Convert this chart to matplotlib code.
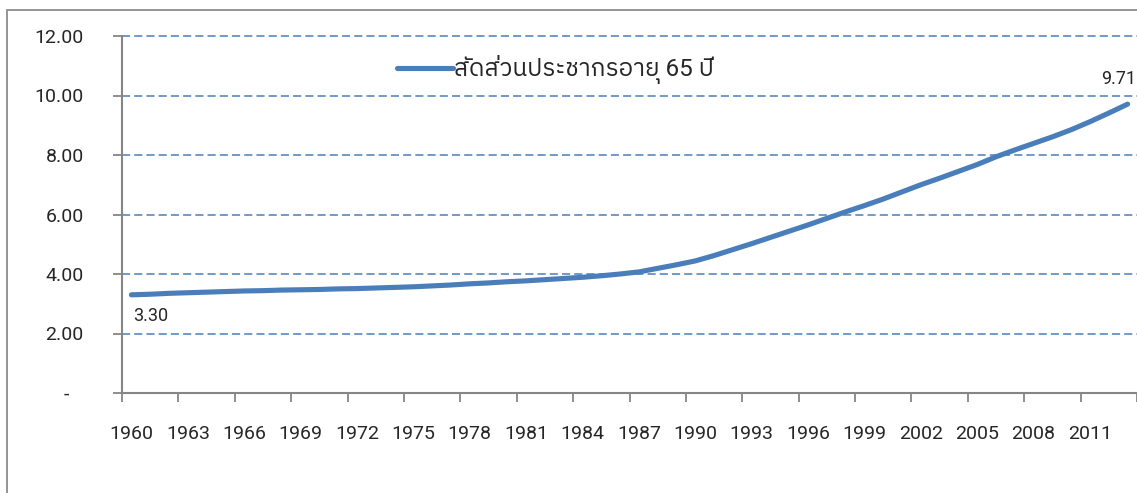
import matplotlib
matplotlib.use('Agg')
import matplotlib.pyplot as plt
import matplotlib.font_manager as fm
from matplotlib.ft2font import FT2Font
from matplotlib.patches import Rectangle
import numpy as np

# data (share of population aged 65+, %)
years = list(range(1960, 2014))
share = [3.30, 3.32, 3.35, 3.37, 3.39, 3.41, 3.43, 3.44, 3.46, 3.47,
         3.48, 3.50, 3.51, 3.53, 3.55, 3.57, 3.60, 3.63, 3.67, 3.70,
         3.74, 3.77, 3.81, 3.85, 3.89, 3.94, 4.00, 4.07, 4.19, 4.31,
         4.44, 4.62, 4.82, 5.02, 5.23, 5.44, 5.65, 5.87, 6.09, 6.30,
         6.52, 6.76, 7.00, 7.22, 7.45, 7.68, 7.94, 8.17, 8.39, 8.61,
         8.85, 9.12, 9.41, 9.71]
series_name = 'สัดส่วนประชากรอายุ 65 ปี'
y_ticks = [0, 2, 4, 6, 8, 10, 12]
y_labels = ['-   ', '2.00', '4.00', '6.00', '8.00', '10.00', '12.00']

# find some installed font that has thai glyphs
thai = []
for ent in fm.fontManager.ttflist:
    try:
        if 0x0E2A in FT2Font(ent.fname).get_charmap():
            thai.append(ent.name)
    except Exception:
        pass
thai = sorted(set(thai), key=lambda n: ('Sans' not in n, n))
fams = ['Roboto'] + thai[:1] + ['DejaVu Sans']
plt.rcParams['font.family'] = fams

blue = '#4A7EBB'
axis_grey = '#868686'
txt = '#262626'

fig = plt.figure(figsize=(11.37, 4.93), dpi=100)
ax = fig.add_axes([122/1137, 1 - 393/493, 1 - 122/1137, (393 - 36)/493])

x = np.arange(len(years))
ax.plot(x, share, color=blue, lw=3.7, solid_capstyle='round', label=series_name, zorder=3)

ax.set_xlim(-0.5, len(years) - 0.5)
ax.set_ylim(0, 12)

# y axis
ax.set_yticks(y_ticks)
ax.set_yticklabels(y_labels)
ax.tick_params(axis='y', direction='out', length=6.5, width=1.3, color=axis_grey,
               pad=21, labelsize=14, labelcolor=txt)

# x axis: ticks between categories every 3, labels on categories
ax.set_xticks(np.arange(-0.5, len(years), 3))
ax.set_xticklabels([])
ax.set_xticks(x[::3], minor=True)
ax.set_xticklabels([str(y) for y in years[::3]], minor=True)
ax.tick_params(axis='x', which='major', direction='out', length=6.5, width=1.3, color=axis_grey)
ax.tick_params(axis='x', which='minor', length=0, pad=23, labelsize=14, labelcolor=txt)

ax.grid(axis='y', color=blue, lw=1.1, linestyle=(0, (5.3, 2.7)), zorder=1)
ax.set_axisbelow(True)
for gl in ax.get_ygridlines():
    gl.set_clip_on(False)
ax.get_ygridlines()[0].set_visible(False)

for s in ['top', 'right']:
    ax.spines[s].set_visible(False)
for s in ['left', 'bottom']:
    ax.spines[s].set_color(axis_grey)
    ax.spines[s].set_linewidth(1.5)

# data labels at the ends
ax.annotate(f'{share[0]:.2f}', (x[0], share[0]), xytext=(19, -21), textcoords='offset pixels',
            ha='center', va='center', fontsize=13, color=txt)
ax.annotate(f'{share[-1]:.2f}', (x[-1], share[-1]), xytext=(-9, 25), textcoords='offset pixels',
            ha='center', va='center', fontsize=13, color=txt)

leg = ax.legend(loc='center left', bbox_to_anchor=(397/1137, 1 - 70/493),
                bbox_transform=fig.transFigure, frameon=False, fontsize=17.5,
                handlelength=2.3, handletextpad=0.05, borderpad=0, borderaxespad=0)
for t in leg.get_texts():
    t.set_color(txt)

# chart area border
fig.patches.append(Rectangle((7/1137, -0.2), 1.2, 1 - 10/493 + 0.2, transform=fig.transFigure,
                             fill=False, edgecolor='#8C8C8C', lw=1.3))

fig.savefig('out.png', dpi=100)
